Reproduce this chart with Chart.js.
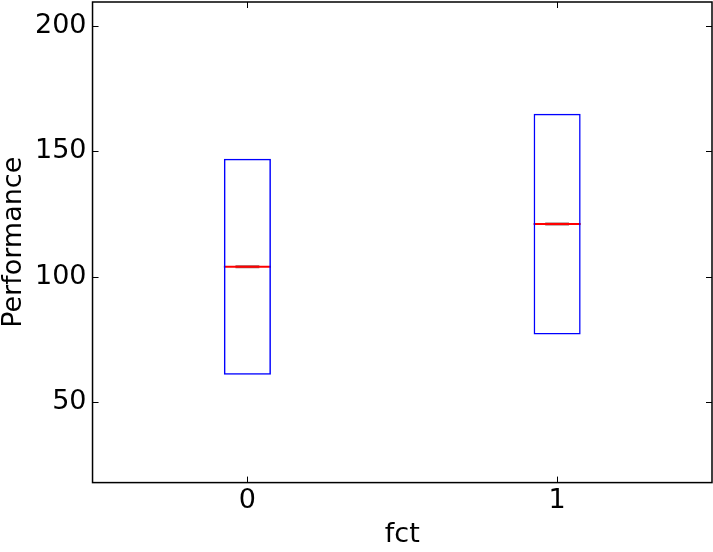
<!DOCTYPE html>
<html>
<head>
<meta charset="utf-8">
<script src="https://cdn.jsdelivr.net/npm/chart.js@4"></script>
<style>
  html, body { margin: 0; padding: 0; background: #fff; }
  #wrap { width: 713px; height: 552px; }
</style>
</head>
<body>
<div id="wrap"><canvas id="chart" width="713" height="552"></canvas></div>
<script>
const groups = ['0', '1'];
const q1 = [61, 77];
const q3 = [147, 165];
const medians = [104, 121];
const yTicks = [50, 100, 150, 200];

const FONT = "'DejaVu Sans', sans-serif";
const TICK_LEN = 6;

// inward ticks on all four sides plus the closed frame, matplotlib classic style
const framePlugin = {
  id: 'frame',
  afterDatasetsDraw(chart) {
    const { ctx, chartArea: a, scales } = chart;
    ctx.save();
    ctx.strokeStyle = '#000';
    ctx.lineWidth = 1;
    ctx.beginPath();
    for (const v of yTicks) {
      const y = Math.round(scales.y.getPixelForValue(v)) + 0.5;
      ctx.moveTo(a.left, y); ctx.lineTo(a.left + TICK_LEN, y);
      ctx.moveTo(a.right, y); ctx.lineTo(a.right - TICK_LEN, y);
    }
    groups.forEach((_, i) => {
      const x = Math.round(scales.x.getPixelForValue(i)) + 0.5;
      ctx.moveTo(x, a.bottom); ctx.lineTo(x, a.bottom - TICK_LEN);
      ctx.moveTo(x, a.top); ctx.lineTo(x, a.top + TICK_LEN);
    });
    ctx.stroke();
    ctx.lineWidth = 1.5;
    ctx.strokeRect(a.left, a.top, a.right - a.left, a.bottom - a.top);
    ctx.restore();
  }
};

const noPad = (scale) => { scale.paddingTop = 0; scale.paddingBottom = 0; scale.paddingLeft = 0; scale.paddingRight = 0; };

new Chart(document.getElementById('chart'), {
  type: 'bar',
  data: {
    labels: groups,
    datasets: [
      {
        label: 'box',
        data: groups.map((_, i) => [q1[i], q3[i]]),
        backgroundColor: 'rgba(0,0,0,0)',
        borderColor: '#0000ff',
        borderWidth: 1.5,
        borderSkipped: false,
        grouped: false,
        barPercentage: 0.152,
        categoryPercentage: 1
      },
      {
        label: 'median',
        data: medians.map(m => [m - 0.4, m + 0.4]),
        backgroundColor: '#ff0000',
        borderWidth: 0,
        grouped: false,
        barPercentage: 0.152,
        categoryPercentage: 1
      },
      {
        label: 'caps',
        data: medians.map(m => [m - 0.6, m + 0.6]),
        backgroundColor: 'rgba(110,60,60,0.8)',
        borderWidth: 0,
        grouped: false,
        barPercentage: 0.077,
        categoryPercentage: 1
      }
    ]
  },
  options: {
    responsive: false,
    animation: false,
    layout: { padding: { top: 2, right: 1, left: 0, bottom: 2 } },
    plugins: {
      legend: { display: false },
      tooltip: { enabled: false }
    },
    scales: {
      x: {
        offset: true,
        grid: { display: false, drawTicks: false },
        border: { display: false },
        ticks: { color: '#000', padding: 4, font: { size: 27, family: FONT, lineHeight: 1.1 } },
        title: {
          display: true,
          text: 'fct',
          color: '#000',
          padding: { top: 0, bottom: 0 },
          font: { size: 27, family: FONT, lineHeight: 1.1 }
        },
        afterFit: noPad
      },
      y: {
        min: 18,
        max: 209.5,
        afterBuildTicks: (scale) => { scale.ticks = yTicks.map(v => ({ value: v })); },
        grid: { display: false, drawTicks: false },
        border: { display: false },
        ticks: { color: '#000', padding: 6, font: { size: 27, family: FONT } },
        title: {
          display: true,
          text: 'Performance',
          color: '#000',
          padding: { top: 0, bottom: 2 },
          font: { size: 27, family: FONT, lineHeight: 1.0 }
        },
        afterFit: noPad
      }
    }
  },
  plugins: [framePlugin]
});
</script>
</body>
</html>
